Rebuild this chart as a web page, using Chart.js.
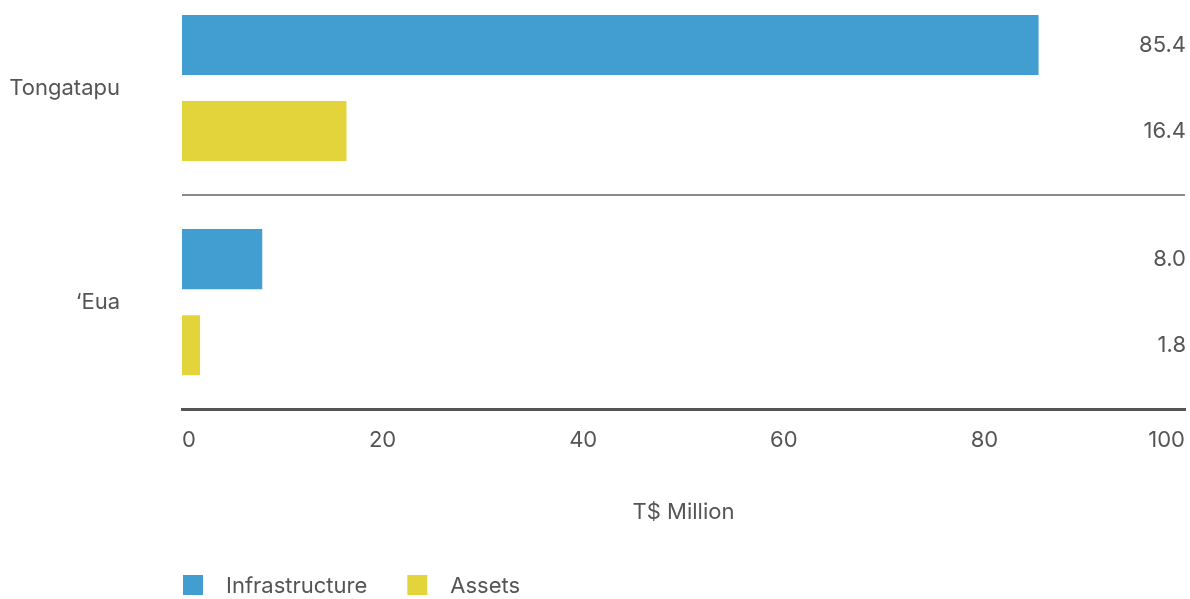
<!DOCTYPE html>
<html>
<head>
<meta charset="utf-8">
<script src="https://cdn.jsdelivr.net/npm/chart.js@4.4.1/dist/chart.umd.min.js"></script>
<style>
  html, body { margin: 0; padding: 0; background: #fff; overflow: hidden; }
  #wrap { position: relative; width: 1190px; height: 618px; margin-top: -19px; }
</style>
</head>
<body>
<div id="wrap"><canvas id="myChart"></canvas></div>
<script>
var islands = ['Tongatapu', '\u2018Eua'];
var infrastructure = [85.4, 8.0];
var assets = [16.4, 1.8];
var xTicks = [0, 20, 40, 60, 80, 100];

var textColor = '#555555';
var fontFamily = 'Inter, "Noto Sans", sans-serif';

// numbers printed at the right edge, one per bar
var valueLabels = {
    id: 'valueLabels',
    afterDatasetsDraw: function(chart) {
        var ctx = chart.ctx;
        ctx.save();
        ctx.font = '22px ' + fontFamily;
        ctx.fillStyle = textColor;
        ctx.textAlign = 'right';
        ctx.textBaseline = 'middle';
        chart.data.datasets.forEach(function(ds, i) {
            chart.getDatasetMeta(i).data.forEach(function(bar, j) {
                ctx.fillText(ds.data[j].toFixed(1), chart.width - 4, bar.y);
            });
        });
        ctx.restore();
    }
};

// legend lined up with the left edge of the plot
var bottomLegend = {
    id: 'bottomLegend',
    afterDraw: function(chart) {
        var ctx = chart.ctx;
        var x = chart.chartArea.left + 1;
        var y = chart.height - 14;
        ctx.save();
        ctx.font = '22px ' + fontFamily;
        ctx.textBaseline = 'middle';
        ctx.textAlign = 'left';
        chart.data.datasets.forEach(function(ds) {
            ctx.fillStyle = ds.backgroundColor;
            ctx.fillRect(x, y - 10, 20, 20);
            ctx.fillStyle = textColor;
            ctx.fillText(ds.label, x + 43, y + 1);
            x += 43 + ctx.measureText(ds.label).width + 40;
        });
        ctx.restore();
    }
};

var myChart = document.getElementById('myChart').getContext('2d');
Chart.defaults.font.family = fontFamily;
Chart.defaults.font.size = 22;
Chart.defaults.color = textColor;

var barChart = new Chart(myChart, {
    type: 'bar',
    data: {
        labels: islands,
        datasets: [
            {
                label: 'Infrastructure',
                data: infrastructure,
                backgroundColor: '#429dd0',
                barPercentage: 0.698,
                categoryPercentage: 0.804
            },
            {
                label: 'Assets',
                data: assets,
                backgroundColor: '#e2d43a',
                barPercentage: 0.698,
                categoryPercentage: 0.804
            }
        ]
    },
    options: {
        indexAxis: 'y',
        responsive: true,
        maintainAspectRatio: false,
        animation: false,
        layout: { padding: { top: 0, right: 5, bottom: 73, left: 0 } },
        plugins: {
            legend: { display: false },
            tooltip: { enabled: false }
        },
        scales: {
            x: {
                min: 0,
                max: 100,
                afterBuildTicks: function(scale) {
                    scale.ticks = xTicks.map(function(v) { return { value: v }; });
                },
                afterFit: function(scale) {
                    scale.paddingLeft = 0;
                    scale.paddingRight = 0;
                },
                grid: { display: false, drawTicks: false },
                border: { display: true, color: '#555555', width: 3 },
                ticks: { padding: 18, align: 'inner', color: textColor },
                title: {
                    display: true,
                    text: 'T$ Million',
                    color: textColor,
                    padding: { top: 28, bottom: 0 }
                }
            },
            y: {
                grid: {
                    offset: true,
                    drawTicks: false,
                    lineWidth: 2,
                    color: function(c) { return c.index === 1 ? '#8a8a8a' : 'rgba(0,0,0,0)'; }
                },
                border: { display: false },
                ticks: { padding: 62, color: textColor },
                afterFit: function(scale) {
                    scale.width = 182;
                    scale.paddingTop = 0;
                    scale.paddingBottom = 0;
                }
            }
        }
    },
    plugins: [valueLabels, bottomLegend]
});
</script>
</body>
</html>
